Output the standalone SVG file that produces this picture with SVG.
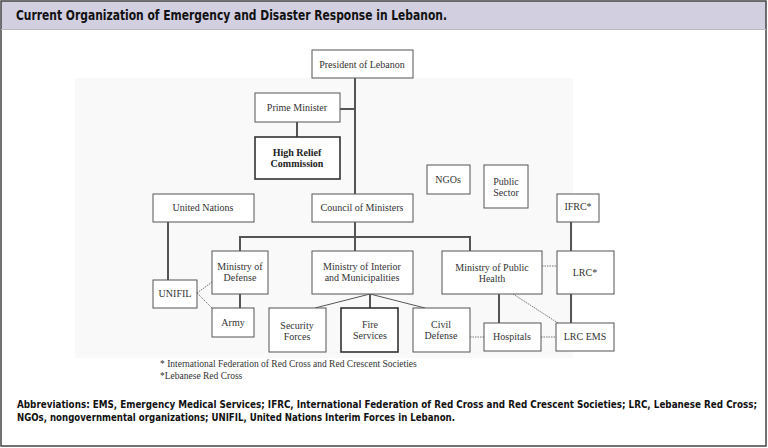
<svg xmlns="http://www.w3.org/2000/svg" width="768" height="448" viewBox="0 0 768 448">
<style>
.box{fill:#ffffff;stroke:#555;stroke-width:1}
.boxb{fill:#ffffff;stroke:#333;stroke-width:1.6}
.t{font-family:"Liberation Serif","DejaVu Serif",serif;font-size:10px;fill:#333;text-anchor:middle}
.tb{font-family:"Liberation Serif","DejaVu Serif",serif;font-size:10px;fill:#222;text-anchor:middle;font-weight:bold}
.ln{stroke:#555;stroke-width:2;fill:none}
.thin{stroke:#555;stroke-width:1;fill:none}
.dot{stroke:#777;stroke-width:1;stroke-dasharray:1.5 1;fill:none}
.fn{font-family:"Liberation Serif","DejaVu Serif",serif;font-size:9.5px;fill:#333}
.hd{font-family:"DejaVu Sans Condensed","Liberation Sans",sans-serif;font-weight:bold;fill:#111}
</style>
<rect x="0" y="0" width="768" height="448" fill="#ffffff"/>
<rect x="1" y="1" width="765" height="28" fill="#d2cfe1"/>
<rect x="1" y="1" width="765" height="445" fill="none" stroke="#444" stroke-width="1.5"/>
<line x1="1" y1="29.5" x2="766" y2="29.5" stroke="#bbb" stroke-width="1"/>
<text class="hd" x="16" y="19.5" font-size="14" textLength="431" lengthAdjust="spacingAndGlyphs">Current Organization of Emergency and Disaster Response in Lebanon.</text>
<rect x="75" y="78" width="498" height="280" fill="#f9f9f9"/>
<g id="connectors">
<line class="ln" x1="355" y1="78" x2="355" y2="194"/>
<line class="ln" x1="340" y1="109" x2="355" y2="109"/>
<line class="ln" x1="297" y1="122" x2="297" y2="137"/>
<line class="ln" x1="168" y1="222" x2="168" y2="280"/>
<polyline class="ln" points="240,251 240,237 470,237 470,251"/>
<line class="ln" x1="355" y1="222" x2="355" y2="251"/>
<line class="ln" x1="240" y1="294" x2="240" y2="308"/>
<line class="ln" x1="370" y1="294" x2="370" y2="308"/>
<line class="thin" x1="370" y1="294" x2="315" y2="308"/>
<line class="thin" x1="370" y1="294" x2="425" y2="308"/>
<line class="ln" x1="499" y1="294" x2="499" y2="323"/>
<line class="ln" x1="571" y1="222" x2="571" y2="251"/>
<line class="ln" x1="571" y1="294" x2="571" y2="323"/>
<line class="dot" x1="197" y1="293" x2="212" y2="282"/>
<line class="dot" x1="197" y1="293" x2="212" y2="308"/>
<line class="dot" x1="542" y1="266" x2="557" y2="266"/>
<line class="dot" x1="470" y1="337" x2="484" y2="337"/>
<line class="dot" x1="541" y1="337" x2="556" y2="337"/>
<line class="dot" x1="513" y1="294" x2="558" y2="323"/>
</g>
<g id="president"><rect class="box" x="312" y="50" width="101" height="28"/><text class="t" x="362" y="68">President of Lebanon</text></g>
<g id="prime-minister"><rect class="box" x="255" y="93" width="85" height="29"/><text class="t" x="297" y="111">Prime Minister</text></g>
<g id="high-relief"><rect class="boxb" x="255" y="137" width="85" height="42"/><text class="tb" x="297" y="156">High Relief</text><text class="tb" x="297" y="167">Commission</text></g>
<g id="ngos"><rect class="box" x="427" y="165" width="43" height="29"/><text class="t" x="448" y="183">NGOs</text></g>
<g id="public-sector"><rect class="box" x="484" y="165" width="44" height="43"/><text class="t" x="506" y="185">Public</text><text class="t" x="506" y="196">Sector</text></g>
<g id="united-nations"><rect class="box" x="153" y="194" width="101" height="28"/><text class="t" x="203" y="211">United Nations</text></g>
<g id="council"><rect class="box" x="312" y="194" width="101" height="28"/><text class="t" x="362" y="211">Council of Ministers</text></g>
<g id="ifrc"><rect class="box" x="557" y="194" width="42" height="28"/><text class="t" x="578" y="210">IFRC*</text></g>
<g id="defense"><rect class="box" x="212" y="251" width="56" height="43"/><text class="t" x="240" y="270">Ministry of</text><text class="t" x="240" y="281">Defense</text></g>
<g id="interior"><rect class="box" x="312" y="251" width="101" height="43"/><text class="t" x="362" y="270">Ministry of Interior</text><text class="t" x="362" y="281">and Municipalities</text></g>
<g id="public-health"><rect class="box" x="442" y="251" width="100" height="43"/><text class="t" x="492" y="271">Ministry of Public</text><text class="t" x="492" y="282">Health</text></g>
<g id="lrc"><rect class="box" x="557" y="251" width="57" height="43"/><text class="t" x="585" y="276">LRC*</text></g>
<g id="unifil"><rect class="box" x="153" y="280" width="44" height="28"/><text class="t" x="175" y="297">UNIFIL</text></g>
<g id="army"><rect class="box" x="212" y="308" width="42" height="29"/><text class="t" x="233" y="326">Army</text></g>
<g id="security"><rect class="box" x="269" y="308" width="57" height="44"/><text class="t" x="297" y="329">Security</text><text class="t" x="297" y="340">Forces</text></g>
<g id="fire"><rect class="boxb" x="341" y="308" width="57" height="44"/><text class="t" x="370" y="328">Fire</text><text class="t" x="370" y="339">Services</text></g>
<g id="civil"><rect class="box" x="413" y="308" width="57" height="44"/><text class="t" x="441" y="328">Civil</text><text class="t" x="441" y="339">Defense</text></g>
<g id="hospitals"><rect class="box" x="484" y="323" width="57" height="28"/><text class="t" x="512" y="340">Hospitals</text></g>
<g id="lrc-ems"><rect class="box" x="556" y="323" width="58" height="28"/><text class="t" x="585" y="340">LRC EMS</text></g>
<text class="fn" x="160" y="367">* International Federation of Red Cross and Red Crescent Societies</text>
<text class="fn" x="160" y="379">*Lebanese Red Cross</text>
<text class="hd" x="17" y="408" font-size="11" textLength="740" lengthAdjust="spacingAndGlyphs">Abbreviations: EMS, Emergency Medical Services; IFRC, International Federation of Red Cross and Red Crescent Societies; LRC, Lebanese Red Cross;</text>
<text class="hd" x="17" y="421" font-size="11" textLength="438" lengthAdjust="spacingAndGlyphs">NGOs, nongovernmental organizations; UNIFIL, United Nations Interim Forces in Lebanon.</text>
</svg>
